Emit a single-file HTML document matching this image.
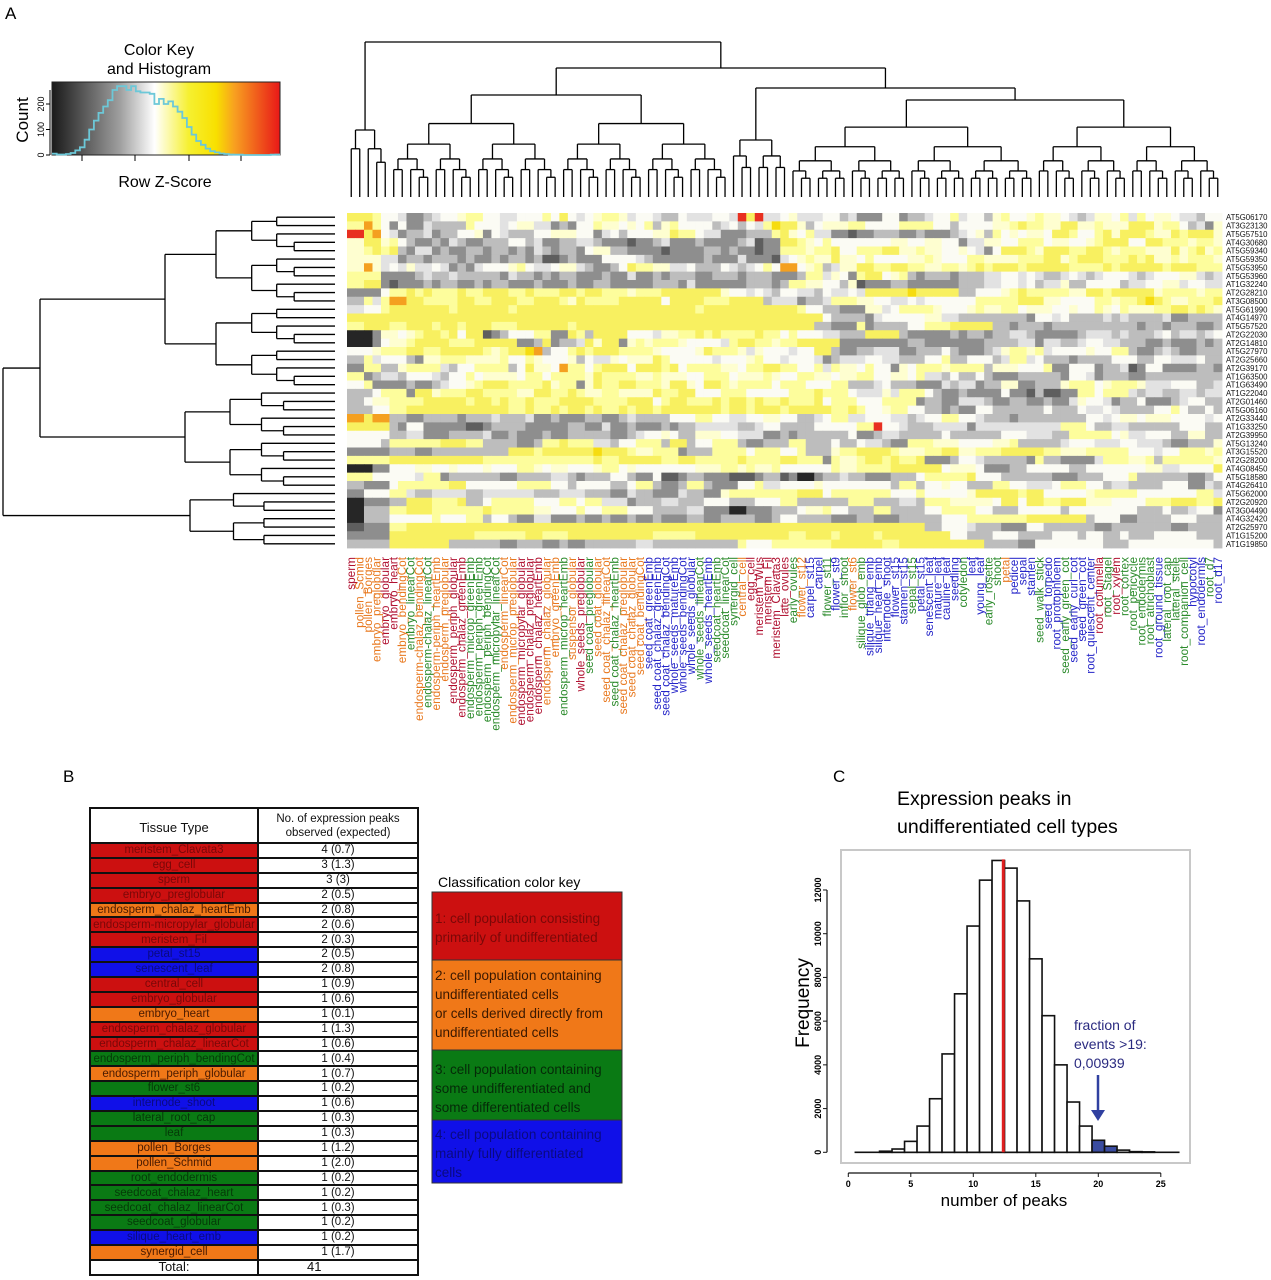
<!DOCTYPE html>
<html><head><meta charset="utf-8">
<style>
body{margin:0;background:#fff;width:1271px;height:1280px;overflow:hidden;font-family:"Liberation Sans",Arial,sans-serif;}
#main{position:absolute;left:0;top:0}
table{border-collapse:collapse;position:absolute;left:89px;top:807px;width:330px;font-size:11.5px;table-layout:fixed}
td{border:2px solid #111;padding:0;height:12.9px;line-height:12.5px;text-align:center;white-space:nowrap;overflow:hidden}
td.n{background:#fff;color:#111}
.R{background:#cc1010;color:#7a0808}.O{background:#f07818;color:#4a1a00}.G{background:#0a7a14;color:#053a08}.B{background:#1010e8;color:#0a0a80}
</style></head><body>
<svg id="main" width="1271" height="1280">
<text x="5" y="19" font-size="17">A</text>
<text x="63" y="782" font-size="17">B</text>
<text x="833" y="782" font-size="17">C</text>
<g id="key"></g>
<g id="topden"></g>
<g id="leftden"></g>
<g id="heat"></g>
<g id="collab"></g>
<g id="rowlab"></g>
<g id="ckey">
<text x="438" y="887" font-size="14">Classification color key</text>
<rect x="432" y="892" width="190" height="68" fill="#cc1010" stroke="#333"/>
<text font-size="13.5" fill="#7a0808"><tspan x="435" y="923">1: cell population consisting</tspan><tspan x="435" y="942">primarily of undifferentiated</tspan></text>
<rect x="432" y="960" width="190" height="90" fill="#f07818" stroke="#333"/>
<text font-size="13.5" fill="#3a1800"><tspan x="435" y="980">2: cell population containing</tspan><tspan x="435" y="999">undifferentiated cells</tspan><tspan x="435" y="1018">or cells derived directly from</tspan><tspan x="435" y="1037">undifferentiated cells</tspan></text>
<rect x="432" y="1050" width="190" height="70" fill="#0a7a14" stroke="#333"/>
<text font-size="13.5" fill="#052a08"><tspan x="435" y="1074">3: cell population containing</tspan><tspan x="435" y="1093">some undifferentiated and</tspan><tspan x="435" y="1112">some differentiated cells</tspan></text>
<rect x="432" y="1120" width="190" height="63" fill="#1010e8" stroke="#333"/>
<text font-size="13.5" fill="#0a0a80"><tspan x="435" y="1139">4: cell population containing</tspan><tspan x="435" y="1158">mainly fully differentiated</tspan><tspan x="435" y="1177">cells</tspan></text>
</g>
<g id="hist"></g>
</svg>
<table>
<colgroup><col style="width:168px"><col></colgroup>
<tr><td class="n" style="height:27px;font-size:13px;padding-top:6px">Tissue Type</td><td class="n" style="height:27px;font-size:11.5px;line-height:14px">No. of expression peaks<br>observed (expected)</td></tr>
<tbody id="tb"></tbody>
</table>
<script>
const NS="http://www.w3.org/2000/svg";
function mk(tag,attrs,parent,text){const e=document.createElementNS(NS,tag);for(const k in attrs)e.setAttribute(k,attrs[k]);if(text!==undefined)e.textContent=text;parent.appendChild(e);return e;}

// ---------- Heatmap data ----------
const colLabels=["sperm","pollen_Scmid","pollen_Borges","embryo_preglobular","embryo_globular","embryo_heart","embryo_bendingCot","embryo_linearCot","endosperm-chalaz_bendingCot","endosperm-chalaz_linearCot","endosperm-periph_heartEmb","endosperm_preglobular","endosperm_periph_globular","endosperm_chalaz_greenEmb","endosperm_microp_greenEmb","endosperm_periph_greenEmb","endosperm_periph_bendingCot","endosperm_micropylar_linearCot","endosperm_linearCot","endosperm_microp_preglobular","endosperm_micropylar_globular","endosperm_chalaz_preglobular","endosperm_chalaz_heartEmb","endosperm_chalaz_globular","embryo_greenEmb","endosperm_microp_heartEmb","suspensor_globular","whole_seeds_preglobular","seed coat_preglobular","seed coat_globular","seed coat_chalaz_linearCot","seed coat_chalaz_heartEmb","seed coat_chalaz_preglobular","seed coat_chalaz_globular","seed coat_bendingCot","seed coat_greenEmb","seed coat_chalaz_greenEmb","seed coat_chalaz_bendingCot","whole_seeds_matureEmb","whole_seeds_bendingCot","whole_seeds_globular","whole_seeds_linearCot","whole_seeds_heartEmb","seedcoat_heartEmb","seedcoat_linearCot","synergid_cell","central_cell","egg_cell","meristem_Wus","meristem_Fil","meristem_Clavata3","late_ovules","early_ovules","flower_st12","carpel_st15","carpel","flower_st11","flower_st9","inflor_shoot","flower_st6","silique_glob_emb","silique_triang_emb","silique_heart_emb","internode_shoot","flower_st15","stamen_st15","sepal_st15","petal_st15","senescent_leaf","mature_leaf","cauline_leaf","seedling","cotyledon","leaf","young_leaf","early_rosette","shoot","petal","pedicel","sepal","stamen","seed_walk_stick","seed_torpedo","root_protophloem","seed_early_green_cot","seed_early_curl_cot","seed_green_cot","root_quiescent_center","root_columella","root_Stagel","root_xylem","root_cortex","root_pericycle","root_endodermis","root_atrichoblast","root_ground_tissue","lateral_root_cap","lateral_stele","root_companion_cell","hypocotyl","root_endodermis","root_d7","root_d17"];
const colClass="rooorrogogoorrggggoorrroogorgoogooobbbbbbgbgggorrrrrgobbgbgogbbbbbgbbbbbgbbggobbbgbbgbbbrgrggggbgggbbgbb";
const rowLabels=["AT5G06170","AT3G23130","AT5G57510","AT4G30680","AT5G59340","AT5G59350","AT5G53950","AT5G53960","AT1G32240","AT2G28210","AT3G08500","AT5G61990","AT4G14970","AT5G57520","AT2G22030","AT2G14810","AT5G27970","AT2G25660","AT2G39170","AT1G63500","AT1G63490","AT1G22040","AT2G01460","AT5G06160","AT2G33440","AT1G33250","AT2G39950","AT5G13240","AT3G15520","AT2G28200","AT4G08450","AT5G18580","AT4G26410","AT5G62000","AT2G20920","AT3G04490","AT4G32420","AT2G25970","AT1G15200","AT1G19850"];
const heatRows=[
"8875542234556775544557585456776455433544554r8r4456444553422552334557455367556765434665747566544355",
"7o7525224333755545644232557656573675553453547986356667755577775535556678776886676668867753426",
"r8o5423342355625433356665524535566877544223337865744212233322322345637565658875578688766878886",
"6886753232432233553422344322212342223222341228765755555566556552446657775665678885587776776",
"6787832423223323232432325663322212222323221227767785577886676556542588768887887677766867867",
"666442323332323233231232225554322222322242214567686657555667655776666778867887778786767776",
"6o6454645423245567544564322358766445335434575o567346687788776776787887888887778788887888777",
"7772223433433332432323322322423233323332332223746527856732332333455454345434554345566434",
"7882122323323233223222323322223332422222332377655361223322222333455453463355534455645544",
"2225787877877887787788787776778888886545435443545488889888833556787777688788886777677",
"3747o88777887788778876877788885888777888344233477665445455555777788665557767898767778",
"455788888788888788888888888888888788888888875332266457776556767756655657657667787876",
"888888888888888888888888888888888888888888888533324555566433333332545333434333423333",
"7888788878788877888887888888888888888888888883322723335577888833233233333333233233223",
"0026567878581235577287388855466787877787575544338883222232323343222234434334534345",
"00256788877788882382348682676776555478776788882222222322222233344243345443322322323",
"55677887888876789o3578788777655568776465545883233442233532234676745556577323432333",
"3745532677766675765563546566875555455675455423445543335733553474533233355535544533",
"2773677743577735865o757885887857776577877574765752657767773665572255234125222332",
"7234355435756665757776877767665577566765776566755657435353223333254233223333333",
"5722232345678877786726878877686587677757755773345332243423362233677567764455334",
"335772867788777688787677666878855775555778775446477532322252131227577434334344",
"3567778888787878778887778857877878787877857755777232244323323246542352234533",
"3357788888888878787878787878888878788788887875675532325533335335454333575353",
"o8o3323332334334232233234333557554556553457445543457754332333333545656655545",
"88832522221233322233242322323444434533355557r54334442444444477534433335533",
"55533422333423223233332345653665544232333352343333533335544337775645533633",
"55377778873332378774357738357732337335354327766555673334554454432336",
"2223322333333887888898876772337775775733678887667886778888766777755457767",
"7778888888877777777787888878877787778772767878782235433327322247767377776",
"0025566565565576565567565555566767675555767778888566522355553555556645558",
"7755547233332333432335325123221123120234322335777855333322335573333235",
"3225777785555777535553573237322574555655555373565337754457753433355243",
"2557434443444433443324322432677777885777755755568887855567775555574",
"0223887783577755757442334335533557333377334377666585878866555778878",
"0337887777877765575775533342202233567533733357775335553555553353452",
"0335557557353242232323232232333235333223223335577777888835523335533",
"1227888888888888888888888888888888888888888835543322533332333332333",
"2228888887777877888888777888888878878878888853355335535353355533",
"3338888333323323233334333333755777788887888888333255555335555553"];
const levelColors={"0":"#262626","1":"#5e5e5e","2":"#8e8e8e","3":"#bdbdbd","4":"#e2e2e2","5":"#fbfbf4","6":"#fefed0","7":"#fdfd9c","8":"#f8f060","9":"#f6dc10","o":"#f4a020","r":"#e83020"};
const classColors={r:"#b01030",o:"#e8781e",g:"#2a8a2a",b:"#2424c8"};

const HX0=347,HX1=1222,HY0=213,HY1=548;
const nC=colLabels.length,nR=rowLabels.length;
const cw=(HX1-HX0)/nC,rh=(HY1-HY0)/nR;
const xCol=i=>HX0+i*cw, yRow=j=>HY0+j*rh;
const heat=document.getElementById('heat');
for(let j=0;j<nR;j++){
  const s=heatRows[j];
  for(let i=0;i<nC;i++){
    const ch=s[Math.min(s.length-1,Math.floor(i*s.length/nC))];
    const r=mk('rect',{x:xCol(i).toFixed(2),y:yRow(j).toFixed(2),width:(cw+0.4).toFixed(2),height:(rh+0.4).toFixed(2),fill:levelColors[ch]},heat);
    
    
  }
}
const collab=document.getElementById('collab');
colLabels.forEach((l,i)=>{
  const cx=xCol(i)+cw/2+4;
  const t=mk('text',{x:0,y:0,transform:`translate(${cx.toFixed(1)},557) rotate(-90)`,'text-anchor':'end','font-size':11.8,fill:classColors[colClass[i]]||"#2424c8"},collab,l);
  
  
});
const rowlab=document.getElementById('rowlab');
rowLabels.forEach((l,j)=>{
  const t=mk('text',{x:1226,y:(yRow(j)+rh/2+3).toFixed(1),'font-size':7.8,fill:'#111'},rowlab,l);
  
  
});

// ---------- Dendrograms (structure/decoration) ----------
function buildTop(a,b,h,g,splits){
  if(a===b) return xCol(a)+cw/2;
  let s=splits[a+"-"+b]; let sp=s?s[0]:Math.floor((a+b+1)/2);
  const hc1=childH(a,sp-1,h,splits), hc2=childH(sp,b,h,splits);
  const x1=buildTop(a,sp-1,hc1,g,splits), x2=buildTop(sp,b,hc2,g,splits);
  mk('line',{x1:x1,y1:hc1,x2:x1,y2:h,stroke:'#000','stroke-width':1.3},g);
  mk('line',{x1:x2,y1:hc2,x2:x2,y2:h,stroke:'#000','stroke-width':1.3},g);
  mk('line',{x1:x1,y1:h,x2:x2,y2:h,stroke:'#000','stroke-width':1.3},g);
  return (x1+x2)/2;
}
function childH(a,b,ph,splits){
  if(a===b) return 197;
  const s=splits[a+"-"+b]; if(s&&s[1]) return s[1];
  return ph+(197-ph)*0.28;
}
const topSplits={"0-102":[5,42],"0-4":[2,130],"5-102":[45,68],"5-44":[25,95],"45-102":[52,88],"45-51":[48,140],"52-102":[81,100]};
buildTop(0,102,42,document.getElementById('topden'),topSplits);

function buildLeft(a,b,x,g,splits){
  if(a===b) return yRow(a)+rh/2;
  let s=splits[a+"-"+b]; let sp=s?s[0]:Math.floor((a+b+1)/2);
  const c1=childX(a,sp-1,x,splits), c2=childX(sp,b,x,splits);
  const y1=buildLeft(a,sp-1,c1,g,splits), y2=buildLeft(sp,b,c2,g,splits);
  mk('line',{x1:c1,y1:y1,x2:x,y2:y1,stroke:'#000','stroke-width':1.3},g);
  mk('line',{x1:c2,y1:y2,x2:x,y2:y2,stroke:'#000','stroke-width':1.3},g);
  mk('line',{x1:x,y1:y1,x2:x,y2:y2,stroke:'#000','stroke-width':1.3},g);
  return (y1+y2)/2;
}
function childX(a,b,px,splits){
  if(a===b) return 335;
  const s=splits[a+"-"+b]; if(s&&s[1]) return s[1];
  return px+(335-px)*0.3;
}
const leftSplits={"0-39":[33,3],"0-32":[21,40],"0-20":[11,165],"21-32":[27,185],"33-39":[36,190]};
buildLeft(0,39,3,document.getElementById('leftden'),leftSplits);

// ---------- Color key ----------
const key=document.getElementById('key');
const defs=mk('defs',{},key);
const lg=mk('linearGradient',{id:'kg',x1:0,x2:1,y1:0,y2:0},defs);
[["0","#1a1a1a"],["0.3","#a0a0a0"],["0.45","#ffffff"],["0.6","#f6f030"],["0.72","#f8e000"],["0.8","#f8a020"],["1","#e81818"]].forEach(s=>mk('stop',{offset:s[0],'stop-color':s[1]},lg));
mk('rect',{x:52,y:82,width:228,height:73,fill:'url(#kg)',stroke:'#222'},key);
mk('text',{x:159,y:55,'text-anchor':'middle','font-size':16},key,'Color Key');
mk('text',{x:159,y:74,'text-anchor':'middle','font-size':16},key,'and Histogram');
mk('text',{x:165,y:187,'text-anchor':'middle','font-size':16},key,'Row Z-Score');
mk('text',{x:0,y:0,transform:'translate(28,120) rotate(-90)','text-anchor':'middle','font-size':17},key,'Count');
mk('line',{x1:50,y1:90,x2:50,y2:155,stroke:'#000'},key);
const keyCounts=[5,2,2,4,8,18,30,60,100,135,165,190,215,255,270,270,255,270,250,245,245,240,200,220,200,210,190,170,145,110,80,55,40,25,15,10,6,4,2,1,1,0,0,0,0,0,0,1,2];
const keyTicks=[0,100,200];
const kx0=52,kx1=280,ky=v=>155-v*0.255;
keyTicks.forEach(v=>{mk('line',{x1:46,y1:ky(v),x2:50,y2:ky(v),stroke:'#000'},key);mk('text',{x:0,y:0,transform:`translate(44,${ky(v)}) rotate(-90)`,'text-anchor':'middle','font-size':9},key,String(v));});
[82,135,189,241].forEach(x=>mk('line',{x1:x,y1:155,x2:x,y2:161,stroke:'#000'},key));
let kp="",bw=(kx1-kx0)/keyCounts.length;
keyCounts.forEach((c,i)=>{const x=kx0+i*bw,y=ky(c);kp+=(i?"L":"M")+x.toFixed(1)+","+y.toFixed(1)+"L"+(x+bw).toFixed(1)+","+y.toFixed(1);});
mk('path',{d:kp,fill:'none',stroke:'#6cc8d8','stroke-width':1.8},key);

// ---------- Table ----------
const tissues=["meristem_Clavata3","egg_cell","sperm","embryo_preglobular","endosperm_chalaz_heartEmb","endosperm-micropylar_globular","meristem_Fil","petal_st15","senescent_leaf","central_cell","embryo_globular","embryo_heart","endosperm_chalaz_globular","endosperm_chalaz_linearCot","endosperm_periph_bendingCot","endosperm_periph_globular","flower_st6","internode_shoot","lateral_root_cap","leaf","pollen_Borges","pollen_Schmid","root_endodermis","seedcoat_chalaz_heart","seedcoat_chalaz_linearCot","seedcoat_globular","silique_heart_emb","synergid_cell"];
const tissueClass="RRRRORRBBRRORRGOGBGGOOGGGGBO";
const peaks=["4 (0.7)","3 (1.3)","3 (3)","2 (0.5)","2 (0.8)","2 (0.6)","2 (0.3)","2 (0.5)","2 (0.8)","1 (0.9)","1 (0.6)","1 (0.1)","1 (1.3)","1 (0.6)","1 (0.4)","1 (0.7)","1 (0.2)","1 (0.6)","1 (0.3)","1 (0.3)","1 (1.2)","1 (2.0)","1 (0.2)","1 (0.2)","1 (0.3)","1 (0.2)","1 (0.2)","1 (1.7)"];
const tb=document.getElementById('tb');
tissues.forEach((t,i)=>{const tr=document.createElement('tr');
  const a=document.createElement('td');a.className=tissueClass[i];a.textContent=t;
  const b=document.createElement('td');b.className='n';b.textContent=peaks[i];
  
  
  tr.appendChild(a);tr.appendChild(b);tb.appendChild(tr);});
{const tr=document.createElement('tr');tr.innerHTML='<td class="n" style="font-size:13px">Total:</td><td class="n" style="font-size:13px;text-align:left;padding-left:48px">41</td>';


tb.appendChild(tr);}

// ---------- Histogram C ----------
const bins=[1,2,3,4,5,6,7,8,9,10,11,12,13,14,15,16,17,18,19,20,21,22,23,24,25,26];
const freqs=[0,0,50,150,500,1200,2450,4500,7250,10350,12450,13350,13000,11500,8850,6250,4000,2300,1200,550,280,100,30,20,0,0];
const highlight=[20,21];
const meanLine=12.4;
const xTicks=[0,5,10,15,20,25];
const yTicks=[0,2000,4000,6000,8000,10000,12000];
const hx=v=>848.3+v*12.5, hy=v=>1152.3-v*0.02186;
const hist=document.getElementById('hist');
mk('text',{x:897,y:805,'font-size':19.5},hist,'Expression peaks in');
mk('text',{x:897,y:833,'font-size':19.5},hist,'undifferentiated cell types');
mk('rect',{x:841,y:850,width:349,height:313,fill:'none',stroke:'#c8c8c8','stroke-width':2},hist);
bins.forEach((b,i)=>{const r=mk('rect',{x:hx(b-0.5),y:hy(freqs[i]),width:12.5,height:Math.max(0,hy(0)-hy(freqs[i])),fill:highlight.includes(b)?'#3a4ca0':'#fff',stroke:'#111','stroke-width':1.6},hist);
  
  });
mk('line',{x1:hx(0.5),y1:hy(0),x2:hx(26.5),y2:hy(0),stroke:'#111','stroke-width':1.6},hist);
mk('line',{x1:hx(meanLine),y1:hy(0),x2:hx(meanLine),y2:hy(13400),stroke:'#e02020','stroke-width':3},hist);
mk('line',{x1:hx(0),y1:1173,x2:hx(25),y2:1173,stroke:'#111','stroke-width':1.2},hist);
xTicks.forEach(v=>{mk('line',{x1:hx(v),y1:1173,x2:hx(v),y2:1177,stroke:'#111'},hist);mk('text',{x:hx(v),y:1187,'text-anchor':'middle','font-size':9,'font-weight':'bold'},hist,String(v));});
mk('line',{x1:827,y1:hy(0),x2:827,y2:hy(12000),stroke:'#111','stroke-width':1.2},hist);
yTicks.forEach(v=>{mk('line',{x1:823,y1:hy(v),x2:827,y2:hy(v),stroke:'#111'},hist);mk('text',{x:0,y:0,transform:`translate(821,${hy(v)}) rotate(-90)`,'text-anchor':'middle','font-size':9,'font-weight':'bold'},hist,String(v));});
mk('text',{x:1004,y:1206,'text-anchor':'middle','font-size':17},hist,'number of peaks');
mk('text',{x:0,y:0,transform:'translate(809,1003) rotate(-90)','text-anchor':'middle','font-size':19},hist,'Frequency');
mk('text',{x:1074,y:1030,'font-size':14,fill:'#2a2a80'},hist,'fraction of');
mk('text',{x:1074,y:1049,'font-size':14,fill:'#2a2a80'},hist,'events >19:');
mk('text',{x:1074,y:1068,'font-size':14,fill:'#2a2a80'},hist,'0,00939');
mk('line',{x1:1098,y1:1075,x2:1098,y2:1112,stroke:'#3040a0','stroke-width':2.5},hist);
mk('path',{d:'M1091,1110 L1105,1110 L1098,1121 Z',fill:'#3040a0'},hist);
</script>
</body></html>
